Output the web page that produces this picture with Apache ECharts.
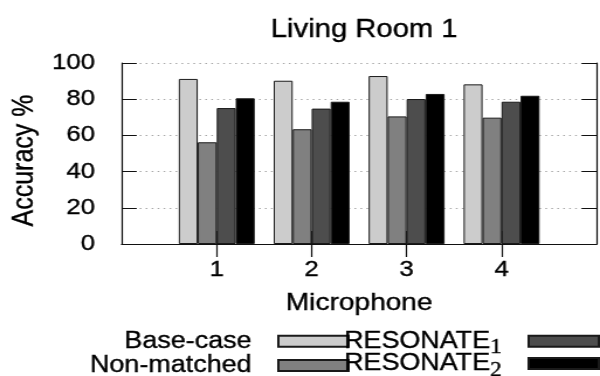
<!DOCTYPE html>
<html>
<head>
<meta charset="utf-8">
<script src="https://cdn.jsdelivr.net/npm/echarts@6/dist/echarts.min.js"></script>
<style>
  html, body { margin: 0; padding: 0; background: #fff; overflow: hidden; }
  /* the figure is laid out on a 513px canvas and widened to 600px */
  #chart { width: 513px; height: 376px; transform: scaleX(1.1696); transform-origin: 0 0; }
</style>
</head>
<body>
<div id="chart"></div>
<script>
// Microphone positions on the x axis
const categories = ['1', '2', '3', '4'];
// Accuracy (%) per microphone
const baseCase   = [91.2, 90.2, 92.8, 88.2];
const nonMatched = [56.2, 63.4, 70.5, 69.8];
const resonate1  = [75.1, 74.8, 80.1, 78.6];
const resonate2  = [80.5, 78.6, 82.9, 81.9];

const FONT = 'Liberation Sans';
// slight stroke so the glyphs read as heavy as print type
const INK = { color: '#000', textBorderColor: '#000', textBorderWidth: 0.35 };

// the x range runs one empty slot past each end of the microphones
const axisData = [''].concat(categories, ['']);
const pad = arr => [null].concat(arr, [null]);
const inner = (i) => i > 0 && i < axisData.length - 1;

const chart = echarts.init(document.getElementById('chart'));

const seriesDefs = [
  { name: 'Base-case',   data: baseCase,   color: '#cccccc' },
  { name: 'Non-matched', data: nonMatched, color: '#808080' },
  { name: 'RESONATE1',   data: resonate1,  color: '#4d4d4d' },
  { name: 'RESONATE2',   data: resonate2,  color: '#000000' }
];

const legendText = Object.assign({
  fontFamily: FONT, fontSize: 23, lineHeight: 20,
  padding: [0, 18, 0, 0],
  rich: {
    // subscript digit, pushed down by its top padding
    sub: Object.assign({ fontFamily: 'Liberation Serif', fontSize: 20, padding: [14, 0, 0, 0] }, INK)
  }
}, INK);
const legendBase = {
  orient: 'vertical', align: 'right', top: 329.5, height: 80, padding: 0,
  itemWidth: 60, itemHeight: 11, icon: 'rect',
  selectedMode: false, textStyle: legendText,
  formatter: name => name.replace(/(\d)$/, '{sub|$1}')
};

const xAxisCommon = {
  type: 'category', data: axisData, boundaryGap: false,
  axisLine: { show: true, lineStyle: { color: '#111', width: 1.2 } },
  axisTick: { show: true, inside: true, length: 13, interval: inner, lineStyle: { color: '#111', width: 1.2 } },
  splitLine: { show: false }
};
const yAxisCommon = {
  type: 'value', min: 0, max: 100, interval: 20,
  axisLine: { show: true, lineStyle: { color: '#111', width: 1.2 } },
  axisTick: { show: true, inside: true, length: 12.8, lineStyle: { color: '#111', width: 1 } }
};

chart.setOption({
  animation: false,
  backgroundColor: '#fff',
  grid: { left: 103.5, top: 63, width: 413, height: 181 },
  legend: [
    Object.assign({}, legendBase, { right: 214, itemGap: 1, data: ['Base-case', 'Non-matched'] }),
    // rows with subscripts are taller, so they sit closer together
    Object.assign({}, legendBase, { right: 0, itemGap: -6.5, data: ['RESONATE1', 'RESONATE2'] })
  ],
  xAxis: [
    Object.assign({}, xAxisCommon, {
      position: 'bottom',
      name: 'Microphone', nameLocation: 'middle', nameGap: 47,
      nameTextStyle: Object.assign({ fontFamily: FONT, fontSize: 24, lineHeight: 24 }, INK),
      axisLabel: Object.assign({ show: true, margin: 15, fontFamily: FONT, fontSize: 22, lineHeight: 22,
                   interval: 0, formatter: v => v }, INK)
    }),
    // top border carries the plot title, centred over the plot area
    Object.assign({}, xAxisCommon, {
      position: 'top', axisLabel: { show: false },
      name: 'Living Room 1', nameLocation: 'middle', nameGap: 20,
      nameTextStyle: Object.assign({ fontFamily: FONT, fontSize: 25, lineHeight: 26, padding: [0, 0, 0, 8.6] }, INK)
    })
  ],
  yAxis: [
    Object.assign({}, yAxisCommon, {
      position: 'left',
      name: 'Accuracy %', nameLocation: 'middle', nameGap: 64,
      nameTextStyle: Object.assign({ fontFamily: FONT, fontSize: 25, lineHeight: 25, padding: [0, 14, 0, 0] }, INK),
      axisLabel: Object.assign({ margin: 23, fontFamily: FONT, fontSize: 22, padding: [5, 0, 0, 0] }, INK),
      splitLine: { show: true, lineStyle: { color: '#a8a8a8', width: 1, type: [1.5, 3.6] } }
    }),
    Object.assign({}, yAxisCommon, { position: 'right', axisLabel: { show: false }, splitLine: { show: false } })
  ],
  series: seriesDefs.map(s => ({
    type: 'bar', name: s.name, data: pad(s.data),
    barGap: '0%', barCategoryGap: '20%',
    itemStyle: { color: s.color, borderColor: '#1a1a1a', borderWidth: 1 },
    emphasis: { disabled: true }
  }))
});
</script>
</body>
</html>
